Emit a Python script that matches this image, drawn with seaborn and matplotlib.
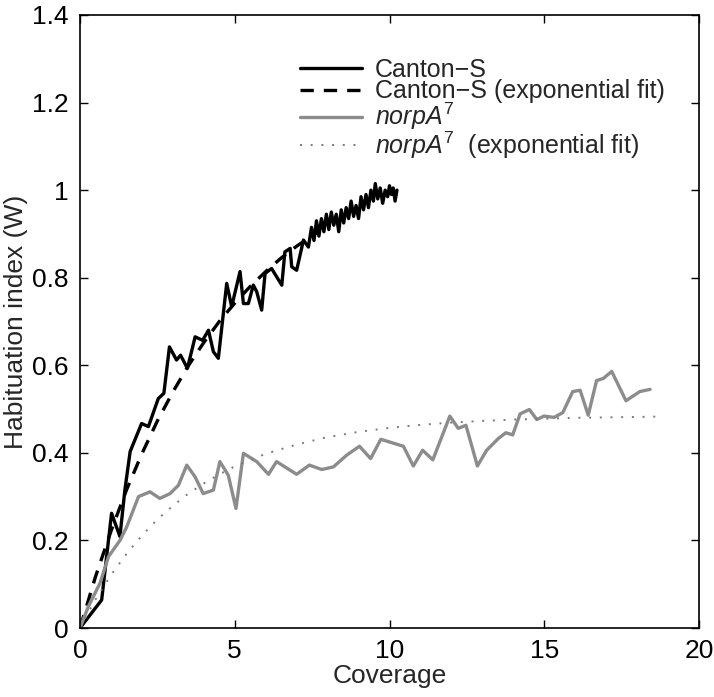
import matplotlib
matplotlib.use("Agg")
import matplotlib.pyplot as plt
import seaborn as sns

# ---- data ----
cs_x = [0, 0.70, 1.02, 1.29, 1.45, 1.62, 1.99, 2.21, 2.53, 2.71, 2.89, 3.12, 3.25, 3.47,
        3.72, 3.96, 4.15, 4.31, 4.47, 4.74, 4.90, 5.17, 5.28, 5.44, 5.60, 5.71, 5.87, 5.98,
        6.19, 6.52, 6.62, 6.79, 6.84, 7.00, 7.22, 7.38, 7.48, 7.56, 7.64, 7.72, 7.80, 7.88,
        7.96, 8.04, 8.12, 8.20, 8.28, 8.36, 8.44, 8.52, 8.60, 8.68, 8.76, 8.84, 8.92, 9.00,
        9.08, 9.16, 9.24, 9.32, 9.40, 9.48, 9.54, 9.62, 9.70, 9.78, 9.86, 9.94, 10.00, 10.06,
        10.12, 10.18, 10.24]
cs_y = [0, 0.064, 0.262, 0.209, 0.315, 0.403, 0.467, 0.460, 0.524, 0.536, 0.642, 0.612, 0.623, 0.593,
        0.665, 0.657, 0.680, 0.631, 0.616, 0.787, 0.734, 0.814, 0.741, 0.741, 0.783, 0.768, 0.726, 0.810,
        0.821, 0.783, 0.859, 0.867, 0.825, 0.817, 0.886, 0.870, 0.915, 0.885, 0.930, 0.895, 0.935, 0.905,
        0.945, 0.910, 0.950, 0.920, 0.945, 0.905, 0.955, 0.925, 0.960, 0.935, 0.975, 0.940, 0.965, 0.935,
        0.985, 0.955, 0.990, 0.960, 1.000, 0.975, 1.015, 0.980, 1.005, 0.970, 1.000, 0.985, 1.010, 0.990,
        1.005, 0.975, 1.000]

cs_fit_x = [0, 0.5, 1.0, 1.5, 2.0, 2.5, 3.0, 3.5, 4.0, 4.5, 5.0, 5.5, 6.0, 6.5, 7.0, 7.5, 7.7]
cs_fit_y = [0, 0.117, 0.221, 0.315, 0.398, 0.473, 0.539, 0.599, 0.652, 0.700, 0.742, 0.780,
            0.814, 0.845, 0.872, 0.896, 0.905]

np_x = [0, 0.27, 0.65, 0.92, 1.29, 1.51, 1.89, 2.26, 2.58, 2.91, 3.18, 3.45, 3.72, 3.98, 4.31,
        4.52, 4.79, 5.04, 5.28, 5.71, 6.09, 6.35, 6.62, 7.00, 7.41, 7.81, 8.19, 8.62, 9.03, 9.39,
        9.72, 10.45, 10.77, 11.07, 11.40, 11.95, 12.22, 12.47, 12.84, 13.14, 13.52, 13.76, 13.98,
        14.22, 14.52, 14.76, 14.99, 15.32, 15.60, 15.92, 16.16, 16.42, 16.69, 16.91, 17.18, 17.64,
        18.09, 18.42]
np_y = [0, 0.049, 0.103, 0.163, 0.200, 0.231, 0.300, 0.311, 0.296, 0.307, 0.326, 0.372, 0.345, 0.307, 0.315,
        0.380, 0.349, 0.273, 0.399, 0.380, 0.351, 0.380, 0.368, 0.351, 0.372, 0.362, 0.368, 0.395, 0.415, 0.387,
        0.431, 0.415, 0.370, 0.406, 0.384, 0.484, 0.456, 0.463, 0.370, 0.406, 0.433, 0.446, 0.441,
        0.489, 0.499, 0.476, 0.484, 0.481, 0.492, 0.540, 0.543, 0.486, 0.565, 0.570, 0.586, 0.519,
        0.540, 0.545]

np_fit_x = [0, 0.5, 1, 1.5, 2, 2.5, 3, 3.5, 4, 4.5, 5, 6, 7, 8, 9, 10, 11, 12, 13, 14, 15, 16, 17, 18, 18.8]
np_fit_y = [0, 0.065, 0.121, 0.169, 0.211, 0.248, 0.279, 0.307, 0.330, 0.351, 0.369, 0.398, 0.419,
            0.436, 0.448, 0.457, 0.464, 0.469, 0.473, 0.476, 0.478, 0.480, 0.481, 0.482, 0.483]

x_ticks = [0, 5, 10, 15, 20]
y_ticks = [0, 0.2, 0.4, 0.6, 0.8, 1.0, 1.2, 1.4]
y_tick_labels = ["0", "0.2", "0.4", "0.6", "0.8", "1", "1.2", "1.4"]

labels = ["Canton\u2212S", "Canton\u2212S (exponential fit)",
          r"$\mathit{norpA}^{7}$", r"$\mathit{norpA}^{7}$  (exponential fit)"]

# ---- style ----
sns.set_style("ticks")
plt.rcParams["font.family"] = ["Liberation Sans", "DejaVu Sans"]
plt.rcParams["mathtext.fontset"] = "custom"
plt.rcParams["mathtext.rm"] = "Liberation Sans"
plt.rcParams["mathtext.it"] = "Liberation Sans:italic"
plt.rcParams["mathtext.default"] = "regular"

fig = plt.figure(figsize=(7.14, 6.97), dpi=100)
ax = fig.add_axes([80 / 714, 1 - 628 / 697, 619 / 714, 613 / 697])

gray = "#8c8c8c"
sns.lineplot(x=cs_x, y=cs_y, ax=ax, color="black", linewidth=2.4, label=labels[0],
             estimator=None, sort=False)
sns.lineplot(x=cs_fit_x, y=cs_fit_y, ax=ax, color="black", linewidth=2.4, label=labels[1],
             estimator=None, sort=False, linestyle=(0, (4, 3)))
sns.lineplot(x=np_x, y=np_y, ax=ax, color=gray, linewidth=2.4, label=labels[2],
             estimator=None, sort=False)
sns.lineplot(x=np_fit_x, y=np_fit_y, ax=ax, color="#7a7a7a", linewidth=1.4, label=labels[3],
             estimator=None, sort=False, linestyle=(0, (1, 4.5)))

ax.set_xlim(0, 20)
ax.set_ylim(0, 1.4)
ax.set_xticks(x_ticks)
ax.set_yticks(y_ticks)
ax.set_yticklabels(y_tick_labels)
ax.tick_params(direction="in", length=6, width=1, top=True, right=True,
               labelsize=19, colors="black", pad=8)
for s in ax.spines.values():
    s.set_visible(True)
    s.set_linewidth(1.2)
    s.set_color("black")

ax.set_xlabel("Coverage", fontsize=19, labelpad=1)
ax.set_ylabel("Habituation index (W)", fontsize=19, labelpad=3)

leg = ax.legend(loc="upper left", bbox_to_anchor=(0.355, 0.93), frameon=False,
                fontsize=18, handlelength=2.5, handletextpad=0.5, labelspacing=-0.1,
                borderpad=0, borderaxespad=0)

fig.savefig("out.png", dpi=100)
